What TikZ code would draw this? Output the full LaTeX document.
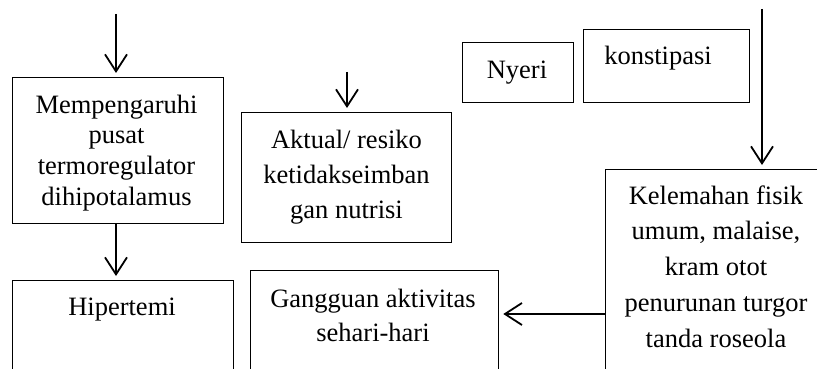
\documentclass[tikz,border=0pt]{standalone}
\usepackage{fontspec}
\setmainfont{Liberation Serif}
\usetikzlibrary{arrows.meta}
\begin{document}
\begin{tikzpicture}[x=1pt,y=-1pt,
  box/.style={draw, line width=1.3pt, inner sep=0pt, anchor=north west},
  txt/.style={align=center, inner sep=0pt, anchor=base},
  arr/.style={line width=1.8pt, -{Straight Barb[length=17pt,width=22pt,line width=1.8pt]}, shorten >=4pt}]
\useasboundingbox (0,0) rectangle (817,369);
% boxes
\node[box, minimum width=211pt, minimum height=146pt] (A) at (12,77) {};
\node[box, minimum width=221pt, minimum height=130pt] (Hip) at (12,280) {};
\node[box, minimum width=210pt, minimum height=130pt] (Akt) at (241,112) {};
\node[box, minimum width=248pt, minimum height=130pt] (Gang) at (250,270) {};
\node[box, minimum width=111pt, minimum height=60pt] (Ny) at (462,42) {};
\node[box, minimum width=166pt, minimum height=73pt] (Kons) at (583,29) {};
\node[box, minimum width=222pt, minimum height=231pt] (Kel) at (605,169) {};
% texts (anchor base = baseline of last line)
\node[txt, font=\fontsize{26.5}{30.8}\selectfont] (At) at (116.5,205.4) {Mempengaruhi\\pusat\\termoregulator\\dihipotalamus};
\node[txt, font=\fontsize{26.5}{31}\selectfont] (Hipt) at (122,315) {Hipertemi};
\node[txt, font=\fontsize{26.5}{35}\selectfont] (Aktt) at (346.5,218) {Aktual/ resiko\\ketidakseimban\\gan nutrisi};
\node[txt, font=\fontsize{26.5}{34}\selectfont] (Gangt) at (373,341) {Gangguan aktivitas\\sehari-hari};
\node[txt, font=\fontsize{26.5}{31}\selectfont] (Nyt) at (517,78) {Nyeri};
\node[txt, font=\fontsize{26.5}{31}\selectfont] (Konst) at (658,65) {konstipasi};
\node[txt, font=\fontsize{26.5}{35.8}\selectfont] (Kelt) at (716,347.2) {Kelemahan fisik\\umum, malaise,\\kram otot\\penurunan turgor\\tanda roseola};
% free ends
\coordinate (c1) at (116,14);
\coordinate (c2) at (347,72);
\coordinate (c3) at (762,9);
% arrows
\draw[arr] (c1) -- (c1 |- A.north);
\draw[arr] (A.south -| c1) -- (c1 |- Hip.north);
\draw[arr] (c2) -- (c2 |- Akt.north);
\draw[arr] (c3) -- (c3 |- Kel.north);
\draw[arr] (Kel.west |- 0,314) -- (Gang.east |- 0,314);
\end{tikzpicture}
\end{document}
